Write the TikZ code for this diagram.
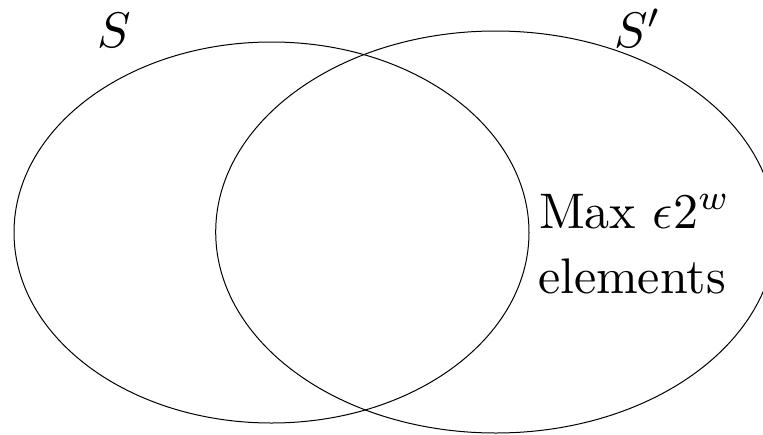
\documentclass[tikz,border=0pt]{standalone}
\usepackage{fontspec}
\usetikzlibrary{shapes.geometric}
\tikzset{
  setshape/.style={ellipse, draw, line width=1pt, inner sep=0pt, outer sep=0pt},
  lbl/.style={inner sep=0pt, outer sep=0pt, scale=5, font=\fontsize{10}{12}\selectfont},
}
\begin{document}
\begin{tikzpicture}[x=1pt,y=-1pt]
\useasboundingbox (0,0) rectangle (763,434);
\node[setshape, minimum width=515pt, minimum height=381pt] (A) at (271.5,232.5) {};
\node[setshape, minimum width=560pt, minimum height=402pt] (B) at (495.7,232) {};
\node[lbl, anchor=base west] (la) at (97,47) {$S$};
\node[lbl, anchor=base west] (lb) at (614,47) {$S'$};
\node[lbl, anchor=base west] (t1) at (539,228) {Max $\epsilon 2^w$};
\node[lbl, anchor=base west] (t2) at (538,293) {elements};
\end{tikzpicture}
\end{document}
